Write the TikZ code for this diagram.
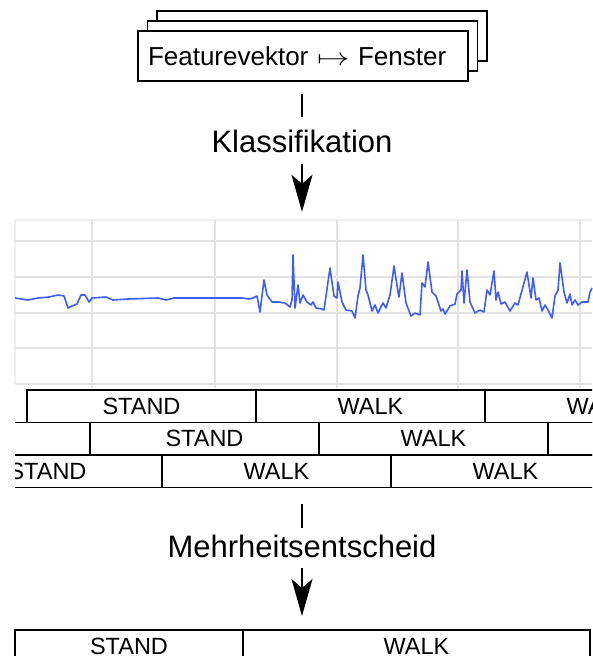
\documentclass[tikz,border=0pt]{standalone}
\usepackage{fontspec}
\setmainfont{Liberation Sans}
\usetikzlibrary{arrows.meta}

\tikzset{
  stackbox/.style={draw, fill=white, line width=1.5pt, minimum width=330pt, minimum height=50pt, inner sep=0pt},
  steplabel/.style={inner sep=0pt, font=\fontsize{31}{36}\selectfont},
  conn/.style={line width=1.5pt},
  connarrow/.style={line width=1.5pt, -{Stealth[length=37pt,width=21pt,inset=9pt]}},
  gridline/.style={draw=black!11, line width=1.5pt},
  gridedge/.style={draw=black!6, line width=1.2pt},
  signal/.style={draw={rgb,255:red,62;green,92;blue,255}, line width=1.6pt, line join=round},
  cell/.style={draw, line width=1.5pt, minimum height=32.5pt, inner sep=0pt, font=\fontsize{23.5}{27}\selectfont},
  win/.style={cell, minimum width=229pt},
}

\begin{document}
\begin{tikzpicture}[x=1pt,y=-1pt]
\useasboundingbox (0,0) rectangle (592,656);
\node[stackbox] (fenster3) at (322,36) {};
\node[stackbox] (fenster2) at (312.5,46) {};
\node[stackbox, text width=310pt, align=left, font=\fontsize{26}{30}\selectfont] (fenster) at (303,56) {Featurevektor \scalebox{1.3}[1]{$\mapsto$} Fenster};
\node[steplabel] (klass) at (302,141.5) {Klassifikation};
\node[inner sep=0pt, minimum width=577pt, minimum height=164pt] (chart) at (303.5,302) {};
\draw[conn, shorten <=12pt, shorten >=12.5pt] (fenster.south -| klass) -- (klass);
\draw[connarrow, shorten <=10.5pt, shorten >=8pt] (klass) -- (klass |- chart.north);
\draw[gridedge] (15,220) -- (592,220) (15,220) -- (15,384);
\foreach \y in {241,277,313,348,384}
  \draw[gridline] (15,\y) -- (592,\y);
\foreach \x in {92,215,337,458,580}
  \draw[gridline] (\x,220) -- (\x,388);
\draw[signal] plot coordinates {(15,298) (28,300) (38,298) (49,297) (58,295) (64,296) (68,308) (72,306) (77,304) (81,295) (85,295) (89,302) (92,298) (106,297) (113,300) (128,299) (158,298) (166,300) (174,298) (242,298) (249,299) (253,298) (257,296) (260,312) (264,280) (267,295) (272,302) (278,302) (285,303) (290,307) (292,300) (293,255) (295,308) (298,285) (300,303) (303,295) (307,302) (311,305) (313,302) (316,308) (322,309) (324,310) (330,268) (334,296) (337,298) (338,282) (342,302) (346,310) (352,311) (355,318) (358,296) (360,288) (363,255) (366,290) (368,295) (372,311) (375,305) (378,313) (383,303) (386,308) (390,295) (394,266) (398,292) (399,297) (402,273) (406,303) (411,316) (415,313) (420,315) (422,283) (425,287) (428,262) (432,292) (436,296) (441,311) (443,309) (445,314) (450,306) (455,304) (457,294) (461,290) (462,271) (464,303) (467,270) (470,302) (475,313) (480,310) (484,312) (487,290) (490,295) (494,271) (496,300) (498,292) (501,304) (505,302) (510,311) (515,303) (518,305) (527,272) (531,298) (533,278) (536,300) (539,298) (542,311) (545,305) (548,310) (552,318) (555,296) (558,290) (560,263) (564,292) (567,303) (570,294) (572,305) (575,300) (578,305) (582,302) (588,302) (590,292) (592,288)};
\begin{scope}
\clip (15,386) rectangle (592,495);
\node[win] (w1a) at (141.5,406) {STAND};
\node[win] (w1b) at (370.5,406) {WALK};
\node[win] (w1c) at (599.5,406) {WALK};
\node[win] (w2a) at (-24.5,438.5) {STAND};
\node[win] (w2b) at (204.5,438.5) {STAND};
\node[win] (w2c) at (433.5,438.5) {WALK};
\node[win] (w2d) at (662.5,438.5) {};
\node[win] (w3a) at (47.5,471) {STAND};
\node[win] (w3b) at (276.5,471) {WALK};
\node[win] (w3c) at (505.5,471) {WALK};
\end{scope}
\node[steplabel] (mehr) at (302,546.5) {Mehrheitsentscheid};
\node[cell, minimum width=228pt] (final1) at (129,646) {STAND};
\node[cell, minimum width=347pt] (final2) at (416.5,646) {WALK};
\draw[conn, shorten <=15.5pt, shorten >=7pt] (w3b.south -| mehr) -- (mehr);
\draw[connarrow, shorten <=10pt, shorten >=13pt] (mehr) -- (mehr |- final2.north);
\end{tikzpicture}
\end{document}
